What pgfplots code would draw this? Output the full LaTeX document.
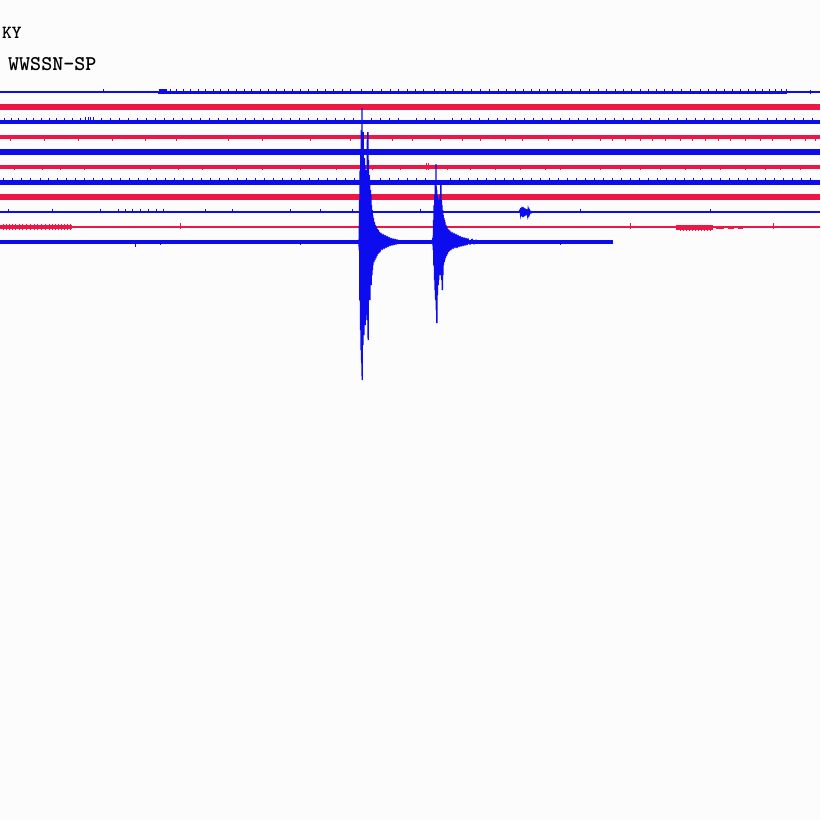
\documentclass[border=0pt]{standalone}
\usepackage{pgfplots}
\pgfplotsset{compat=1.18}
\definecolor{tb}{RGB}{12,12,238}
\definecolor{tr}{RGB}{238,22,68}
\definecolor{bg}{RGB}{252,252,252}
\begin{document}
\begin{tikzpicture}
\begin{axis}[width=820pt,height=820pt,scale only axis,
  xmin=0,xmax=820,ymin=0,ymax=820,y dir=reverse,hide axis,clip=true,
  spk/.style={only marks,mark=|,mark options={line width=1pt}}]
\fill[bg] (axis cs:0,0) rectangle (axis cs:820,820);
\node[anchor=base west,inner sep=0pt,font=\fontsize{18.5}{18.5}\selectfont\ttfamily\bfseries] at (axis cs:2,38) {KY};
\node[anchor=base west,inner sep=0pt,font=\fontsize{21}{21}\selectfont\ttfamily\bfseries] at (axis cs:8,70) {WWSSN-SP};
% trace 1
\addplot[tb,line width=2.2pt] coordinates {(0,92) (820,92)};
\addplot[tb,line width=3pt] coordinates {(158,92) (787,92)};
\addplot[tb,line width=4.5pt] coordinates {(159,91.5) (167,91.5)};
\addplot[tb,spk,mark size=2.2] coordinates {(103,91)(170,91)(176,91)(183,91)(190,91)(198,91)(205,91)(213,91)(220,91)(228,91)(236,91)(244,91)(251,91)(260,91)(268,91)(276,91)(284,91)(292,91)(300,91)(308,91)(317,91)(325,91)(333,91)(342,91)(350,91)(361,91)(372,91)(381,91)(390,91)(398,91)(407,91)(415,91)(423,91)(434,91)(445,91)(453,91)(462,91)(471,91)(480,91)(489,91)(498,91)(506,91)(515,91)(523,91)(531,91)(539,91)(547,91)(555,91)(562,91)(571,91)(580,91)(589,91)(598,91)(606,91)(615,91)(623,91)(631,91)(640,91)(648,91)(656,91)(664,91)(672,91)(681,91)(690,91)(700,91)(708,91)(716,91)(724,91)(732,91)(740,91)(748,91)(755,91)(762,91)(769,91)(775,91)(781,91)(786,91)(810,92)};
% trace 2
\addplot[tr,line width=5.2pt] coordinates {(0,107) (820,107)};
% trace 3
\addplot[tb,line width=4.5pt] coordinates {(0,122) (820,122)};
\addplot[tb,spk,mark size=2.8] coordinates {(4,121)(11,121)(18,121)(26,121)(33,121)(41,121)(49,121)(56,121)(64,121)(72,121)(80,121)(85,120)(88,120)(90,120)(93,120)(101,121)(110,121)(119,121)(128,121)(137,121)(146,121)(155,121)(164,121)(173,121)(182,121)(191,121)(200,121)(209,121)(218,121)(227,121)(236,121)(245,121)(254,121)(263,121)(272,121)(281,121)(290,121)(299,121)(308,121)(317,121)(326,121)(335,121)(344,121)(353,121)(371,121)(380,121)(389,121)(398,121)(416,121)(425,121)(434,121)(452,121)(461,121)(470,121)(479,121)(488,121)(497,121)(506,121)(515,121)(524,121)(533,121)(542,121)(551,121)(560,121)(569,121)(578,121)(587,121)(596,121)(605,121)(614,121)(623,121)(632,121)(641,121)(650,121)(659,121)(668,121)(677,121)(686,121)(695,121)(704,121)(713,121)(722,121)(731,121)(740,121)(749,121)(758,121)(767,121)(776,121)(785,121)(794,121)(803,121)(812,121)};
% trace 4
\addplot[tr,line width=4pt] coordinates {(0,137) (820,137)};
\addplot[tr,spk,mark size=2.4] coordinates {(10,139)(44,139)(78,139)(112,139)(145,139)(176,139)(228,139)(262,139)(310,139)(350,139)(392,139)(412,139)(440,139)(462,139)(480,139)(505,139)(522,139)(548,139)(572,139)(600,139)(612,139)(625,139)(640,139)(652,139)(665,139)(680,139)(692,139)(705,139)(718,139)(730,139)(745,139)(760,139)(772,139)(790,139)(805,139)(815,139)};
% trace 5
\addplot[tb,line width=5.5pt] coordinates {(0,152) (820,152)};
% trace 6
\addplot[tr,line width=4.5pt] coordinates {(0,167) (820,167)};
\addplot[tr,spk,mark size=2.5] coordinates {(14,167)(42,167)(60,167)(84,167)(150,167)(178,167)(202,167)(236,167)(262,167)(300,167)(336,167)(372,167)(400,167)(447,167)(470,167)(495,167)(520,167)(545,167)(560,167)(600,167)(620,167)(640,167)(660,167)(685,167)(700,167)(720,167)(745,167)(765,167)(780,167)(800,167)};
\addplot[tr,spk,mark size=3.5] coordinates {(426,166.5)(428,166.5)};
% trace 7
\addplot[tb,line width=5pt] coordinates {(0,182) (820,182)};
\addplot[tb,spk,mark size=2.8] coordinates {(3,181)(12,181)(21,181)(30,181)(40,181)(48,181)(57,181)(66,181)(75,181)(84,181)(93,181)(102,181)(111,181)(120,181)(129,181)(138,181)(147,181)(156,181)(165,181)(174,181)(183,181)(192,181)(201,181)(210,181)(219,181)(228,181)(237,181)(246,181)(255,181)(264,181)(273,181)(282,181)(291,181)(300,181)(309,181)(318,181)(327,181)(336,181)(345,181)(354,181)(380,181)(389,181)(398,181)(407,181)(416,181)(425,181)(450,181)(459,181)(468,181)(477,181)(486,181)(495,181)(504,181)(513,181)(522,181)(531,181)(540,181)(549,181)(558,181)(567,181)(576,181)(585,181)(594,181)(603,181)(612,181)(621,181)(630,181)(639,181)(648,181)(657,181)(666,181)(675,181)(684,181)(693,181)(702,181)(711,181)(720,181)(729,181)(738,181)(747,181)(756,181)(765,181)(774,181)(783,181)(792,181)(801,181)(810,181)};
% trace 8
\addplot[tr,line width=5.5pt] coordinates {(0,197) (820,197)};
% trace 9
\addplot[tb,line width=2.2pt] coordinates {(0,212) (820,212)};
\addplot[tb,line width=2.6pt] coordinates {(115,212) (165,212)};
\addplot[tb,spk,mark size=2] coordinates {(8,211)(52,211)(100,211)(118,211)(125,211)(132,211)(140,211)(148,211)(156,211)(163,211)(205,211)(232,211)(290,211)(320,211)(352,211)(420,211)(580,211)(710,211)};
\addplot[tb,line width=1.2pt] coordinates {(519,212)(520,210)(520.5,214)(521,208)(521.5,216)(522,207)(522.5,217)(523,207)(523.5,217)(524,208)(524.5,216)(525,208.5)(525.5,215.5)(526,209)(526.5,215)(527,209.5)(527.5,214.5)(528,210)(528.5,214)(529,210.5)(529.5,213.5)(530,211)(531,213)(532,211.5)(533,212)};
% trace 10
\addplot[tr,line width=2.3pt] coordinates {(0,227) (820,227)};
\addplot[tr,line width=4.5pt] coordinates {(0,227) (72,227)};
\addplot[tr,spk,mark size=2.6] coordinates {(3,227)(6,227)(9,227)(12,227)(15,227)(19,227)(22,227)(26,227)(30,227)(34,227)(37,227)(41,227)(45,227)(49,227)(52,227)(55,227)(58,227)(61,227)(64,227)(67,227)(70,227)(180,226)(630,226)(773,226)};
\addplot[tr,line width=5pt] coordinates {(676,227.5) (713,227.5)};
\addplot[tr,spk,mark size=3] coordinates {(680,227.5)(683,227.5)(686,227.5)(689,227.5)(692,227.5)(695,227.5)(698,227.5)(701,227.5)(704,227.5)(707,227.5)(710,227.5)};
\addplot[tr,line width=3.5pt] coordinates {(716,227.5)(724,227.5)};
\addplot[tr,line width=3.5pt] coordinates {(728,227.5)(734,227.5)};
\addplot[tr,line width=3.5pt] coordinates {(738,227.5)(743,227.5)};
% trace 11
\addplot[tb,line width=3.3pt] coordinates {(0,242) (613,242)};
\addplot[tb,spk,mark size=2.5] coordinates {(135,244)(160,242)(300,242)(560,242)};
% event 1
\addplot[tb,line width=1.4pt,line join=bevel] coordinates {(358,242)
(359,240)(359.3,250)(359.6,200)(359.9,300)(360.2,170)(360.5,330)
(360.8,150)(361.1,350)(361.4,130)(361.7,363)(362,108)(362.2,380)
(362.5,150)(362.8,345)(363.1,132)(363.4,330)(363.7,160)(364,335)
(364.3,158)(364.6,320)(364.9,165)(365.2,325)(365.5,170)(365.8,315)
(366.1,170)(366.4,310)(366.7,175)(367,320)(367.3,140)(367.6,300)
(367.9,132)(368.2,340)(368.5,160)(368.8,300)(369.1,175)(369.4,290)
(369.7,185)(370,300)(370.3,190)(370.6,280)(370.9,195)(371.2,285)
(371.5,205)(371.8,275)(372.1,210)(372.4,270)(372.7,215)(373,265)
(373.5,218)(374,262)(374.5,222)(375,260)(375.5,225)(376,258)
(376.5,227)(377,256)(377.5,229)(378,254)(378.5,230)(379,253)
(379.5,232)(380,252)(381,233)(382,250)(383,234)(384,249)
(385,235)(386,248)(387,236)(388,247)(389,237)(390,246)
(391,238)(392,245.5)(393,238.5)(394,245)(395,239)(396,244.5)
(397,239.5)(398,244)(399,240)(400,243.5)(402,240.5)(404,243)(406,242)};
% event 2
\addplot[tb,line width=1.4pt,line join=bevel] coordinates {(432,242)
(433,238)(433.3,250)(433.6,220)(433.9,265)(434.2,205)(434.5,280)
(434.8,195)(435.1,290)(435.4,185)(435.7,300)(436,164)(436.3,310)
(436.6,190)(436.9,323)(437.2,195)(437.5,295)(437.8,198)(438.1,285)
(438.4,200)(438.7,280)(439,205)(439.3,275)(439.6,203)(439.9,270)
(440.2,195)(440.5,275)(440.8,183)(441.1,270)(441.4,200)(441.7,280)
(442,205)(442.3,290)(442.6,210)(442.9,275)(443.2,215)(443.5,265)
(443.8,218)(444.1,262)(444.4,220)(444.7,260)(445,222)(445.5,258)
(446,225)(446.5,256)(447,227)(447.5,254)(448,229)(448.5,252)
(449,230)(449.5,251)(450,231)(451,250)(452,232)(453,249)
(454,233)(455,248)(456,234)(457,248)(458,235)(459,247)
(460,236)(461,246.5)(462,237)(463,246)(464,237.5)(465,245.5)
(466,238)(467,245)(468,238.5)(470,244.5)(472,239)(474,244)
(476,240)(478,243.5)(480,240.5)(483,243)(486,242)};
\end{axis}
\pgfresetboundingbox
\path (current axis.south west) rectangle (current axis.north east);
\end{tikzpicture}
\end{document}
